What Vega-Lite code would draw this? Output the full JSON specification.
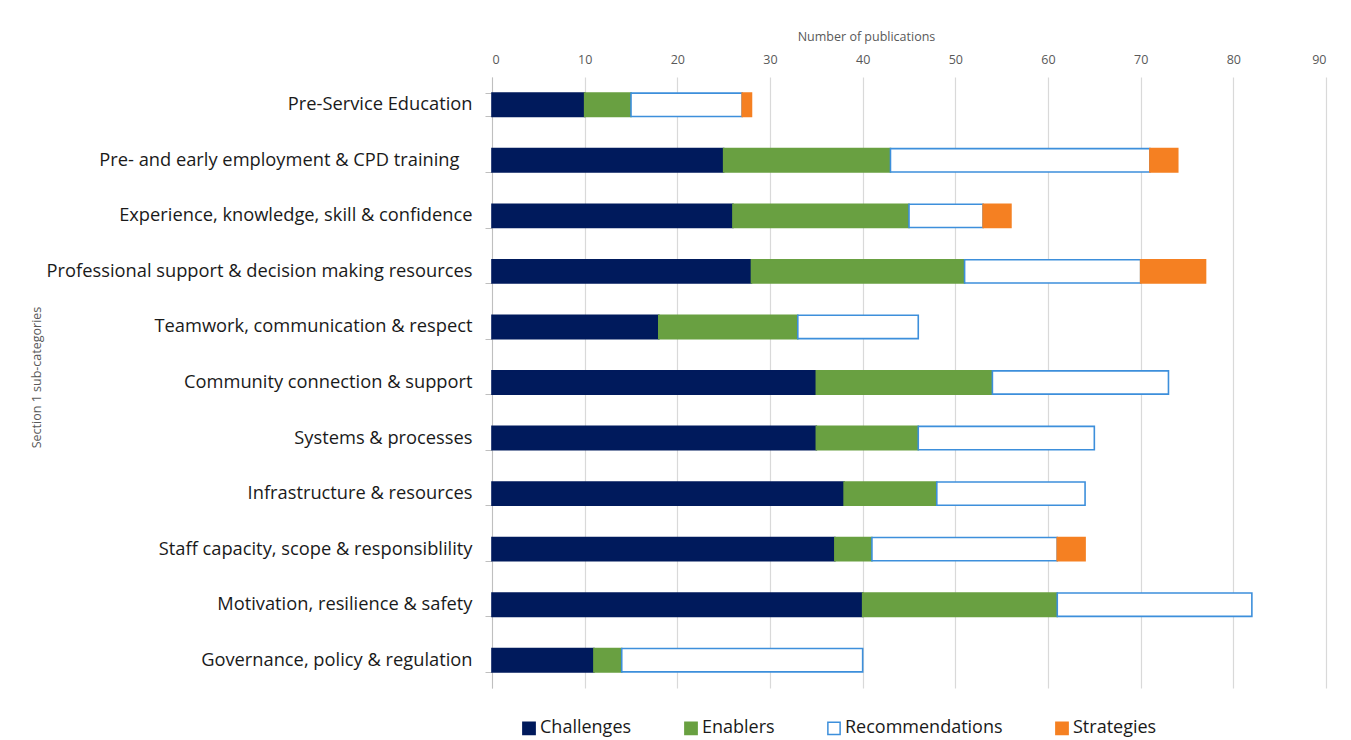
{
  "$schema": "https://vega.github.io/schema/vega-lite/v6.json",
  "width": 834,
  "height": 611,
  "autosize": {"type": "none"},
  "padding": {"left": 492, "top": 77, "right": 25, "bottom": 52},
  "background": "#ffffff",
  "config": {"view": {"stroke": null}, "font": "Open Sans"},
  "data": {
    "values": [
      {"category": "Pre-Service Education", "type": "Challenges", "count": 10},
      {"category": "Pre-Service Education", "type": "Enablers", "count": 5},
      {"category": "Pre-Service Education", "type": "Recommendations", "count": 12},
      {"category": "Pre-Service Education", "type": "Strategies", "count": 1},
      {"category": "Pre- and early employment & CPD training\u2800", "type": "Challenges", "count": 25},
      {"category": "Pre- and early employment & CPD training\u2800", "type": "Enablers", "count": 18},
      {"category": "Pre- and early employment & CPD training\u2800", "type": "Recommendations", "count": 28},
      {"category": "Pre- and early employment & CPD training\u2800", "type": "Strategies", "count": 3},
      {"category": "Experience, knowledge, skill & confidence", "type": "Challenges", "count": 26},
      {"category": "Experience, knowledge, skill & confidence", "type": "Enablers", "count": 19},
      {"category": "Experience, knowledge, skill & confidence", "type": "Recommendations", "count": 8},
      {"category": "Experience, knowledge, skill & confidence", "type": "Strategies", "count": 3},
      {"category": "Professional support & decision making resources", "type": "Challenges", "count": 28},
      {"category": "Professional support & decision making resources", "type": "Enablers", "count": 23},
      {"category": "Professional support & decision making resources", "type": "Recommendations", "count": 19},
      {"category": "Professional support & decision making resources", "type": "Strategies", "count": 7},
      {"category": "Teamwork, communication & respect", "type": "Challenges", "count": 18},
      {"category": "Teamwork, communication & respect", "type": "Enablers", "count": 15},
      {"category": "Teamwork, communication & respect", "type": "Recommendations", "count": 13},
      {"category": "Community connection & support", "type": "Challenges", "count": 35},
      {"category": "Community connection & support", "type": "Enablers", "count": 19},
      {"category": "Community connection & support", "type": "Recommendations", "count": 19},
      {"category": "Systems & processes", "type": "Challenges", "count": 35},
      {"category": "Systems & processes", "type": "Enablers", "count": 11},
      {"category": "Systems & processes", "type": "Recommendations", "count": 19},
      {"category": "Infrastructure & resources", "type": "Challenges", "count": 38},
      {"category": "Infrastructure & resources", "type": "Enablers", "count": 10},
      {"category": "Infrastructure & resources", "type": "Recommendations", "count": 16},
      {"category": "Staff capacity, scope & responsiblility", "type": "Challenges", "count": 37},
      {"category": "Staff capacity, scope & responsiblility", "type": "Enablers", "count": 4},
      {"category": "Staff capacity, scope & responsiblility", "type": "Recommendations", "count": 20},
      {"category": "Staff capacity, scope & responsiblility", "type": "Strategies", "count": 3},
      {"category": "Motivation, resilience & safety", "type": "Challenges", "count": 40},
      {"category": "Motivation, resilience & safety", "type": "Enablers", "count": 21},
      {"category": "Motivation, resilience & safety", "type": "Recommendations", "count": 21},
      {"category": "Governance, policy & regulation", "type": "Challenges", "count": 11},
      {"category": "Governance, policy & regulation", "type": "Enablers", "count": 3},
      {"category": "Governance, policy & regulation", "type": "Recommendations", "count": 26}
    ]
  },
  "mark": {"type": "bar", "strokeWidth": 1.6},
  "encoding": {
    "y": {
      "field": "category",
      "type": "nominal",
      "sort": null,
      "scale": {"paddingInner": 0.58, "paddingOuter": 0.29},
      "axis": {
        "title": "Section 1 sub-categories",
        "titleFontSize": 12.5,
        "titleFontWeight": "normal",
        "titleColor": "#595959",
        "titleX": -449,
        "titleY": 300,
        "labelFontSize": 18.3,
        "labelColor": "#1a1a1a",
        "labelPadding": 13,
        "labelLimit": 600,
        "tickBand": "extent",
        "tickSize": 7,
        "tickColor": "#bfbfbf",
        "domainColor": "#bfbfbf",
        "grid": false
      }
    },
    "x": {
      "field": "count",
      "type": "quantitative",
      "stack": "zero",
      "scale": {"domain": [0, 90], "nice": false},
      "axis": {
        "orient": "top",
        "values": [0, 10, 20, 30, 40, 50, 60, 70, 80, 90],
        "title": "Number of publications",
        "titleFontSize": 12.5,
        "titleFontWeight": "normal",
        "titleColor": "#595959",
        "titlePadding": 10,
        "titleX": 374,
        "labelFontSize": 12.5,
        "labelColor": "#595959",
        "labelPadding": 11,
        "ticks": false,
        "domain": false,
        "grid": true,
        "gridColor": "#d9d9d9",
        "gridWidth": 1.2
      }
    },
    "color": {
      "field": "type",
      "type": "nominal",
      "scale": {
        "domain": ["Challenges", "Enablers", "Recommendations", "Strategies"],
        "range": ["#001a5c", "#69a041", "#ffffff", "#f58022"]
      },
      "legend": {
        "title": null,
        "orient": "none",
        "direction": "horizontal",
        "legendX": 28,
        "legendY": 642,
        "symbolType": "square",
        "symbolSize": 150,
        "symbolStrokeWidth": 1.5,
        "labelFontSize": 18,
        "labelColor": "#1a1a1a",
        "labelOffset": 2,
        "columnPadding": 49
      }
    },
    "stroke": {
      "field": "type",
      "type": "nominal",
      "scale": {
        "domain": ["Challenges", "Enablers", "Recommendations", "Strategies"],
        "range": ["#001a5c", "#69a041", "#3d8fdb", "#f58022"]
      },
      "legend": {
        "title": null,
        "orient": "none",
        "direction": "horizontal",
        "legendX": 28,
        "legendY": 642,
        "symbolType": "square",
        "symbolSize": 150,
        "symbolStrokeWidth": 1.5,
        "labelFontSize": 18,
        "labelColor": "#1a1a1a",
        "labelOffset": 2,
        "columnPadding": 49
      }
    }
  }
}
